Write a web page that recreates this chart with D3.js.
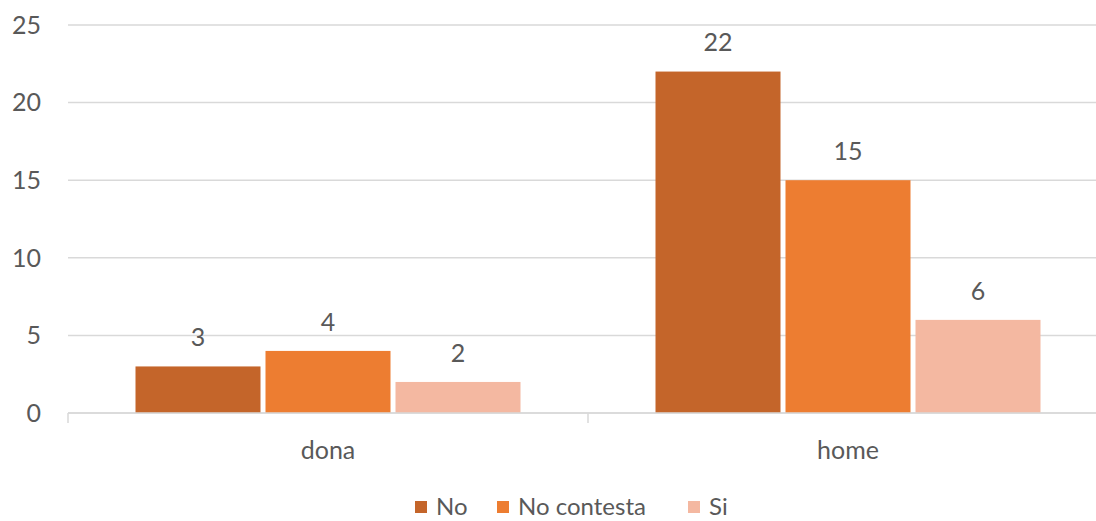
<!DOCTYPE html>
<html><head><meta charset="utf-8">
<script src="https://cdn.jsdelivr.net/npm/d3@7"></script>
<style>
body{margin:0;background:#fff;}
text{font-family:Lato,"Liberation Sans",sans-serif;fill:#595959;}
</style></head>
<body><svg id="c" width="1096" height="521"></svg>
<script>
const categories = ["dona","home"];
const seriesNames = ["No","No contesta","Si"];
const seriesNo = [3,22];
const seriesNoContesta = [4,15];
const seriesSi = [2,6];
const yTicks = [0,5,10,15,20,25];
const colors = ["#C4652A","#ED7D31","#F4B8A1"];

const values = [seriesNo, seriesNoContesta, seriesSi];
const svg = d3.select("#c");
const x0 = d3.scaleBand().domain(categories).range([68,1108]).paddingInner(0).paddingOuter(0);
const x1 = d3.scaleBand().domain(seriesNames).range([0,390]);
const y = d3.scaleLinear().domain([0,25]).range([413,25]);
const fs = 25;

// gridlines
svg.append("g").selectAll("line").data(yTicks).join("line")
  .attr("x1",68).attr("x2",1108).attr("y1",d=>y(d)).attr("y2",d=>y(d))
  .attr("stroke","#D9D9D9").attr("stroke-width",1.5);
// y labels
svg.append("g").selectAll("text").data(yTicks).join("text")
  .attr("x",41).attr("y",d=>y(d)).attr("dy","0.35em").attr("text-anchor","end")
  .attr("font-size",fs).text(d=>d);

// bars
categories.forEach((c,ci)=>{
  const gx = x0(c) + (x0.bandwidth()-390)/2;
  seriesNames.forEach((s,si)=>{
    const v = values[si][ci];
    svg.append("rect")
      .attr("x", gx + x1(s) + 2.5).attr("width", x1.bandwidth()-5)
      .attr("y", y(v)).attr("height", y(0)-y(v))
      .attr("fill", colors[si]);
    svg.append("text")
      .attr("x", gx + x1(s) + x1.bandwidth()/2).attr("y", y(v)-29)
      .attr("dy","0.35em").attr("text-anchor","middle").attr("font-size",fs).text(v);
  });
});

// x axis
const ax = svg.append("g");
ax.append("line").attr("x1",68).attr("x2",1108).attr("y1",y(0)).attr("y2",y(0))
  .attr("stroke","#D9D9D9").attr("stroke-width",1.5);
const bounds = [68, x0("home"), 1108];
ax.selectAll("line.t").data(bounds).join("line").attr("class","t")
  .attr("x1",d=>d).attr("x2",d=>d).attr("y1",y(0)).attr("y2",y(0)+10)
  .attr("stroke","#D9D9D9").attr("stroke-width",1.5);
ax.selectAll("text").data(categories).join("text")
  .attr("x",d=>x0(d)+x0.bandwidth()/2).attr("y",450).attr("dy","0.35em")
  .attr("text-anchor","middle").attr("font-size",fs).text(d=>d);

// legend
const legX = [415, 497, 688];
const lg = svg.append("g");
seriesNames.forEach((s,i)=>{
  lg.append("rect").attr("x",legX[i]).attr("y",501).attr("width",12).attr("height",12).attr("fill",colors[i]);
  lg.append("text").attr("x",legX[i]+21).attr("y",507).attr("dy","0.35em").attr("font-size",24).text(s);
});
</script></body></html>
